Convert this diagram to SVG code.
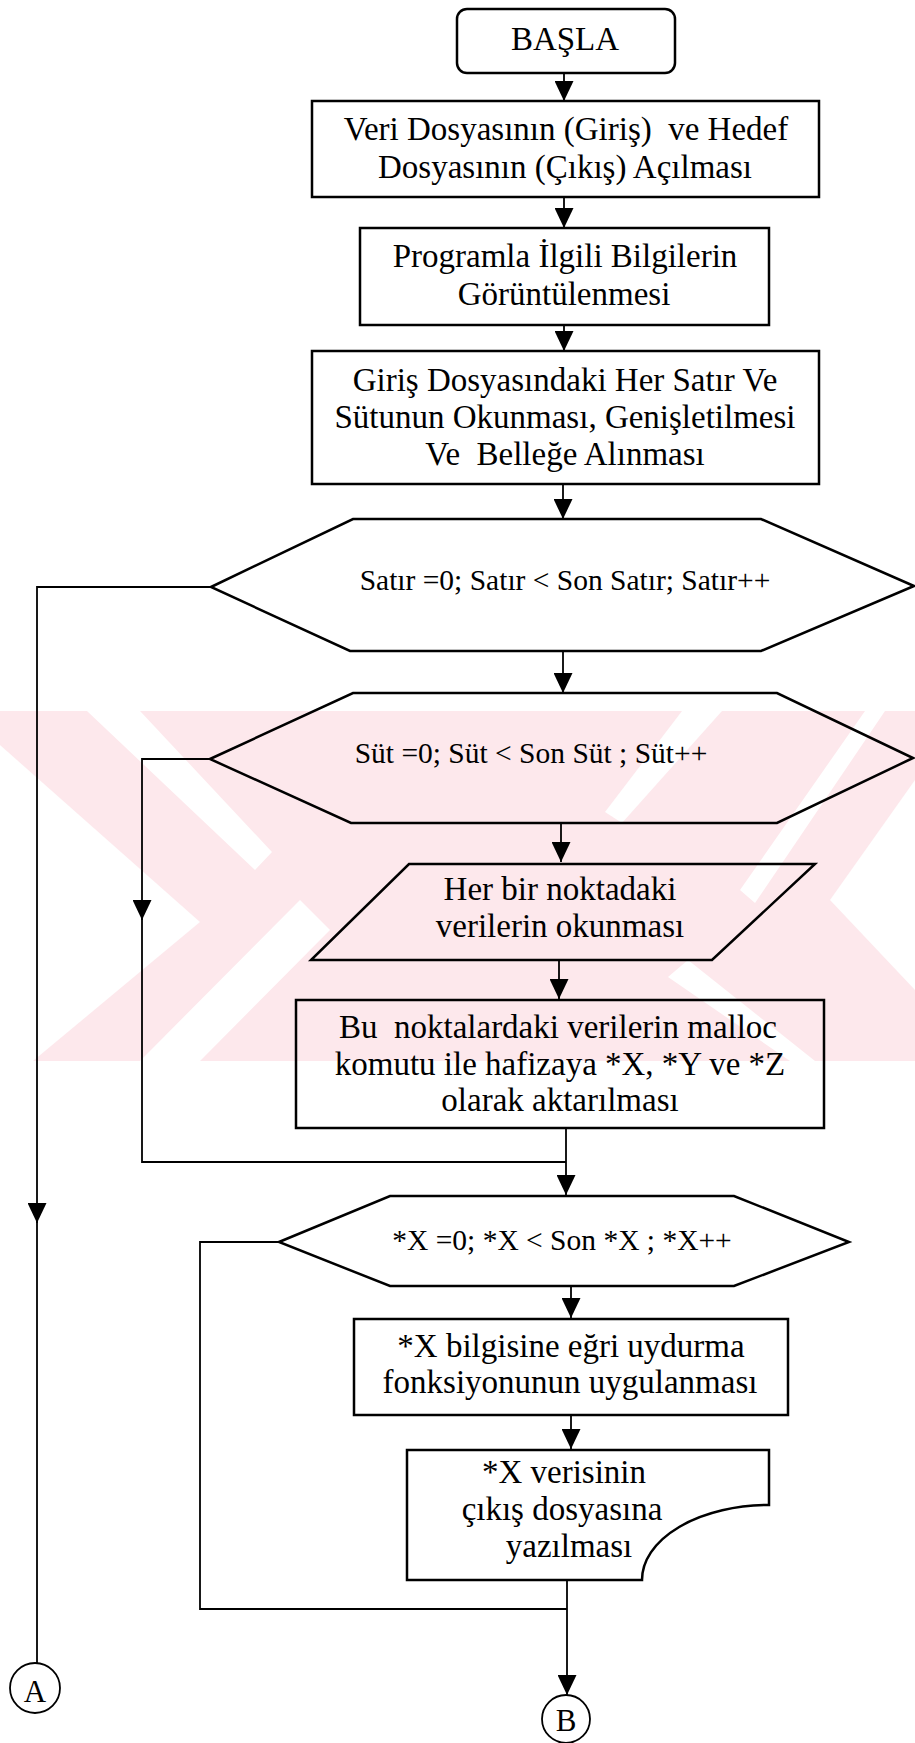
<svg xmlns="http://www.w3.org/2000/svg" width="915" height="1743" viewBox="0 0 915 1743">
<defs>
<marker id="arr" markerUnits="userSpaceOnUse" markerWidth="20" markerHeight="19" viewBox="0 0 20 19" refX="20" refY="9.5" orient="auto"><path d="M0,0 L20,9.5 L0,19 Z" fill="#000"/></marker>
<style>
.shape{fill:none;stroke:#000;stroke-width:2.5;stroke-linejoin:miter}
.wire{fill:none;stroke:#000;stroke-width:1.8}
.circ{fill:none;stroke:#000;stroke-width:1.8}
.t{font-family:"Liberation Serif","Times New Roman",serif;font-size:33px;fill:#000;text-anchor:middle}
.h{font-size:29.5px}
.wm{fill:#fde8ec}
.wg{fill:#ffffff}
</style>
</defs>
<rect width="915" height="1743" fill="#fff"/>
<g id="watermark">
<rect class="wm" x="0" y="711" width="915" height="350"/>
<polygon class="wg" points="87,711 140,711 272,852 255,870"/>
<polygon class="wg" points="0,745 200,922 33,1061 0,1061"/>
<polygon class="wg" points="682,711 722,711 622,823 605,812"/>
<polygon class="wg" points="865,711 885,711 755,903 740,890"/>
<polygon class="wg" points="668,977 688,960 815,1061 790,1061"/>
<polygon class="wg" points="915,780 830,900 915,990"/>
<polygon class="wg" points="140,1061 300,900 330,930 200,1061"/>
</g>
<g id="connectors">
<path class="wire" d="M564,73 V101" marker-end="url(#arr)"/>
<path class="wire" d="M564,197 V228" marker-end="url(#arr)"/>
<path class="wire" d="M564,325 V351" marker-end="url(#arr)"/>
<path class="wire" d="M563,484 V519" marker-end="url(#arr)"/>
<path class="wire" d="M563,651 V693" marker-end="url(#arr)"/>
<path class="wire" d="M561,823 V862" marker-end="url(#arr)"/>
<path class="wire" d="M559,960 V999" marker-end="url(#arr)"/>
<path class="wire" d="M566,1128 V1195" marker-end="url(#arr)"/>
<path class="wire" d="M210,759 H142 V920" marker-end="url(#arr)"/>
<path class="wire" d="M142,918 V1162 H566"/>
<path class="wire" d="M211,587 H37 V1223" marker-end="url(#arr)"/>
<path class="wire" d="M37,1221 V1663"/>
<path class="wire" d="M571,1286 V1318" marker-end="url(#arr)"/>
<path class="wire" d="M571,1415 V1449" marker-end="url(#arr)"/>
<path class="wire" d="M567,1580 V1695" marker-end="url(#arr)"/>
<path class="wire" d="M279,1242 H200 V1609 H567"/>
</g>
<g id="start">
<rect class="shape" x="457" y="9" width="218" height="64" rx="10"/>
<text class="t" x="565" y="50">BAŞLA</text>
</g>
<g id="open-files">
<rect class="shape" x="312" y="101" width="507" height="96"/>
<text class="t" x="566" y="140" xml:space="preserve">Veri Dosyasının (Giriş)  ve Hedef</text>
<text class="t" x="565" y="178">Dosyasının (Çıkış) Açılması</text>
</g>
<g id="show-info">
<rect class="shape" x="360" y="228" width="409" height="97"/>
<text class="t" x="565" y="267">Programla İlgili Bilgilerin</text>
<text class="t" x="564" y="305">Görüntülenmesi</text>
</g>
<g id="read-rows">
<rect class="shape" x="312" y="351" width="507" height="133"/>
<text class="t" x="565" y="391">Giriş Dosyasındaki Her Satır Ve</text>
<text class="t" x="565" y="428">Sütunun Okunması, Genişletilmesi</text>
<text class="t" x="565" y="465" xml:space="preserve">Ve  Belleğe Alınması</text>
</g>
<g id="loop-row">
<polygon class="shape" points="211,587 353,519 761,519 914,586 761,651 350,651"/>
<text class="t h" x="565" y="590">Satır =0; Satır &lt; Son Satır; Satır++</text>
</g>
<g id="loop-col">
<polygon class="shape" points="210,759 353,693 777,693 913,758 777,823 351,823"/>
<text class="t h" x="531" y="763">Süt =0; Süt &lt; Son Süt ; Süt++</text>
</g>
<g id="read-point">
<polygon class="shape" points="409,864 815,864 712,960 311,960"/>
<text class="t" x="560" y="900">Her bir noktadaki</text>
<text class="t" x="560" y="937">verilerin okunması</text>
</g>
<g id="malloc">
<rect class="shape" x="296" y="1000" width="528" height="128"/>
<text class="t" x="558" y="1038" xml:space="preserve">Bu  noktalardaki verilerin malloc</text>
<text class="t" x="560" y="1075">komutu ile hafizaya *X, *Y ve *Z</text>
<text class="t" x="560" y="1111">olarak aktarılması</text>
</g>
<g id="loop-x">
<polygon class="shape" points="279,1242 390,1196 734,1196 849,1242 734,1286 390,1286"/>
<text class="t h" x="562" y="1250">*X =0; *X &lt; Son *X ; *X++</text>
</g>
<g id="curve-fit">
<rect class="shape" x="354" y="1319" width="434" height="96"/>
<text class="t" x="571" y="1357">*X bilgisine eğri uydurma</text>
<text class="t" x="570" y="1393">fonksiyonunun uygulanması</text>
</g>
<g id="write-output">
<path class="shape" d="M407,1450 H769 V1505 A127,75 0 0 0 642,1580 H407 Z"/>
<text class="t" x="564" y="1483">*X verisinin</text>
<text class="t" x="562" y="1520">çıkış dosyasına</text>
<text class="t" x="569" y="1557">yazılması</text>
</g>
<g id="conn-A">
<circle class="circ" cx="35" cy="1688" r="25"/>
<text class="t" x="35" y="1702" style="font-size:31px">A</text>
</g>
<g id="conn-B">
<circle class="circ" cx="566" cy="1719" r="24"/>
<text class="t" x="566" y="1731" style="font-size:31px">B</text>
</g>
</svg>
